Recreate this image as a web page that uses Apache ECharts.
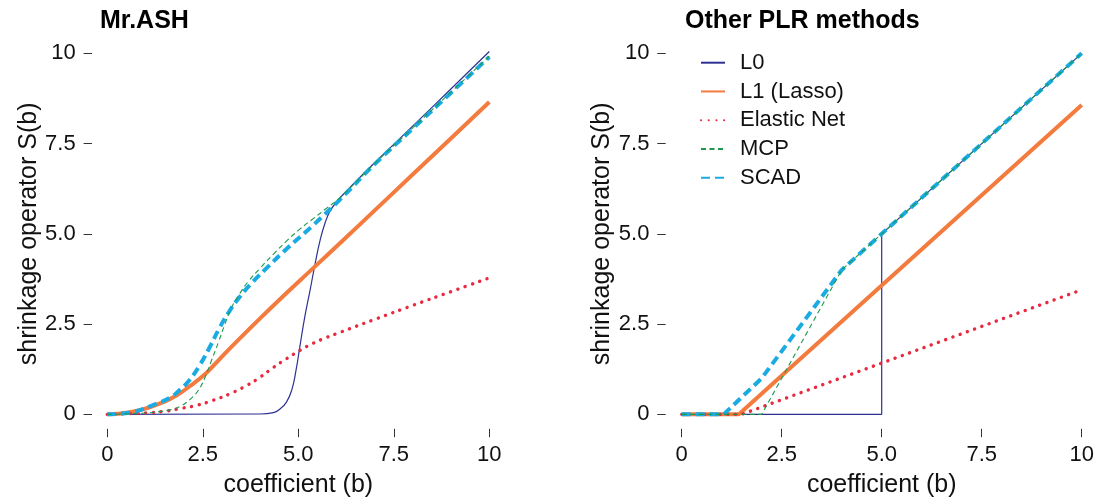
<!DOCTYPE html>
<html>
<head>
<meta charset="utf-8">
<script src="https://cdn.jsdelivr.net/npm/echarts@6/dist/echarts.min.js"></script>
<style>
html,body{margin:0;padding:0;background:#fff;}
#chart{width:1095px;height:497px;}
</style>
</head>
<body>
<div id="chart"></div>
<script>
// ---- Data ----
const panelTitles = ['Mr.ASH', 'Other PLR methods'];
const methodNames = ['L0', 'L1 (Lasso)', 'Elastic Net', 'MCP', 'SCAD'];
const tickValues = [0, 2.5, 5, 7.5, 10];
const tickLabels = ['0', '2.5', '5.0', '7.5', '10'];
const axisRange = [-0.4, 10.4];
const xTitle = 'coefficient (b)';
const yTitle = 'shrinkage operator S(b)';

// Mr.ASH panel: [b, S(b)]
const ashL0 = [[0,0],[4,0.01],[4.35,0.05],[4.52,0.15],[4.69,0.34],[4.83,0.68],[4.94,1.22],[5.04,1.87],[5.17,2.7],[5.31,3.45],[5.44,4.17],[5.57,4.82],[5.7,5.3],[5.83,5.63],[6,5.88],[6.2,6.12],[7,6.97],[8,7.99],[9,9.02],[10,10.05]];
const ashL1 = [[0,0],[0.59,0.06],[1.03,0.17],[1.47,0.34],[1.82,0.53],[2.16,0.78],[2.51,1.07],[2.77,1.34],[3.21,1.83],[3.82,2.47],[4.52,3.19],[5.39,4.05],[6.2,4.85],[7,5.65],[8,6.65],[9,7.65],[10,8.65]];
const ashEN = [[0,0],[0.59,0.02],[1.03,0.04],[1.47,0.08],[1.9,0.16],[2.34,0.25],[2.77,0.39],[3.21,0.57],[3.65,0.8],[4,1.03],[4.35,1.3],[4.69,1.54],[5.04,1.77],[5.39,1.97],[5.74,2.13],[6.09,2.27],[7,2.63],[8,3.02],[9,3.4],[10,3.78]];
const ashMCP = [[0,0],[1.03,0.04],[1.55,0.11],[1.9,0.22],[2.16,0.41],[2.38,0.66],[2.56,1.03],[2.73,1.5],[2.91,2.0],[3.08,2.5],[3.25,2.95],[3.47,3.35],[3.69,3.68],[4,4.05],[4.35,4.44],[4.69,4.8],[5.04,5.13],[5.39,5.42],[5.74,5.71],[6.09,6.0],[7,6.95],[8,7.94],[9,8.93],[10,9.92]];
const ashSCAD = [[0,0],[0.68,0.07],[1.29,0.3],[1.64,0.46],[1.9,0.68],[2.16,0.96],[2.43,1.38],[2.69,1.88],[2.95,2.42],[3.21,2.88],[3.47,3.26],[3.82,3.68],[4.17,4.05],[4.69,4.58],[5.39,5.24],[6.09,5.95],[7,6.93],[8,7.92],[9,8.91],[10,9.9]];

// Other PLR methods panel
const plrL0 = [[0,0],[5,0],[5,5],[10,10]];
const plrL1 = [[0,0],[1.43,0],[10,8.57]];
const plrEN = [[0,0],[1.5,0],[10,3.45]];
const plrMCP = [[0,0],[2,0],[4,4],[10,10]];
const plrSCAD = [[0,0],[1.05,0],[2,1],[4,4],[10,10]];

// ---- Styles ----
const FONT = 'Liberation Sans, Arial, Helvetica, sans-serif';
const styles = {
  'L0':          {color:'#2E3192', width:1.2, type:'solid', cap:'butt', z:2},
  'L1 (Lasso)':  {color:'#F47B3E', width:4, type:'solid', cap:'butt', z:3},
  'Elastic Net': {color:'#E8293E', width:3.4, type:[0.1,7.6], cap:'round', z:4},
  'MCP':         {color:'#1A9A4A', width:1.1, type:[5,3.5], cap:'butt', z:6},
  'SCAD':        {color:'#1AABE3', width:4, type:[9,5], cap:'butt', z:5}
};

const panels = [
  {data:[ashL0, ashL1, ashEN, ashMCP, ashSCAD], smooth:0.5},
  {data:[plrL0, plrL1, plrEN, plrMCP, plrSCAD], smooth:false}
];

const grids = [
  {left:92.0, top:38.9, width:412.6, height:389.9, containLabel:false, outerBoundsMode:'none'},
  {left:665.7, top:38.9, width:432, height:389.9, containLabel:false, outerBoundsMode:'none'}
];

function fmt(v){ const i = tickValues.indexOf(v); return i >= 0 ? tickLabels[i] : String(v); }

const xAxes = grids.map((g,i)=>({
  type:'value', gridIndex:i, min:axisRange[0], max:axisRange[1], position:'bottom',
  axisLine:{show:false, onZero:false},
  axisTick:{show:true, inside:false, length:8.4, customValues:tickValues, lineStyle:{color:'#333', width:1}},
  splitLine:{show:false},
  axisLabel:{formatter:fmt, customValues:tickValues, fontSize:22, color:'#111', fontFamily:FONT, margin:15},
  name:xTitle, nameLocation:'middle', nameGap:44,
  nameTextStyle:{fontSize:25, color:'#111', fontFamily:FONT}
}));
const yAxes = grids.map((g,i)=>({
  type:'value', gridIndex:i, min:axisRange[0], max:axisRange[1], position:'left',
  axisLine:{show:false, onZero:false},
  axisTick:{show:true, inside:false, length:8.4, customValues:tickValues, lineStyle:{color:'#333', width:1}},
  splitLine:{show:false},
  axisLabel:{formatter:fmt, customValues:tickValues, fontSize:22, color:'#111', fontFamily:FONT, margin:16.3},
  name:yTitle, nameLocation:'middle', nameGap:50,
  nameTextStyle:{fontSize:25, color:'#111', fontFamily:FONT}
}));

const series = [];
panels.forEach((p,pi)=>{
  p.data.forEach((d,mi)=>{
    const name = methodNames[mi];
    const s = styles[name];
    series.push({
      name:name, type:'line', xAxisIndex:pi, yAxisIndex:pi,
      data:d, showSymbol:false, symbol:'none', clip:false,
      smooth:p.smooth, z:s.z,
      animation:false,
      lineStyle:{color:s.color, width:s.width, type:s.type, cap:s.cap},
      itemStyle:{color:s.color},
      emphasis:{disabled:true}
    });
  });
});

const chart = echarts.init(document.getElementById('chart'), null, {renderer:'canvas'});
chart.setOption({
  animation:false,
  backgroundColor:'#fff',
  title:[
    {text:panelTitles[0], left:95, top:4, textStyle:{fontSize:25, fontWeight:'bold', color:'#000', fontFamily:FONT}},
    {text:panelTitles[1], left:680, top:4, textStyle:{fontSize:25, fontWeight:'bold', color:'#000', fontFamily:FONT}}
  ],
  legend:{
    data:methodNames, orient:'vertical', left:695, top:46.7,
    itemWidth:24, itemHeight:14, itemGap:6.75,
    itemStyle:{opacity:0},
    textStyle:{fontSize:22, color:'#111', fontFamily:FONT, lineHeight:22, padding:[0,0,0,10]},
    selectedMode:false
  },
  grid:grids,
  xAxis:xAxes,
  yAxis:yAxes,
  series:series
});
</script>
</body>
</html>
